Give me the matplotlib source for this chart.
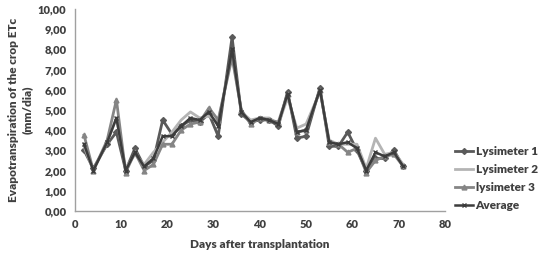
import matplotlib.pyplot as plt
from matplotlib.ticker import FuncFormatter

####################################################################################################

days = [2, 4, 7, 9, 11, 13, 15, 17, 19, 21, 23, 25, 27, 29, 31, 34, 36, 38, 40, 42, 44, 46, 48, 50,
        53, 55, 57, 59, 61, 63, 65, 67, 69, 71]

lys1 = [3.0, 2.1, 3.3, 3.9, 2.0, 3.1, 2.2, 2.5, 4.5, 3.8, 4.2, 4.5, 4.4, 4.8, 3.7, 8.6, 4.8, 4.4,
        4.5, 4.5, 4.2, 5.9, 3.6, 3.7, 6.1, 3.2, 3.2, 3.9, 3.0, 2.0, 2.6, 2.6, 3.0, 2.2]
lys2 = [3.2, 2.0, 3.4, 4.6, 2.1, 2.8, 2.3, 2.9, 3.4, 3.9, 4.5, 4.9, 4.6, 4.7, 4.4, 7.8, 4.9, 4.5,
        4.6, 4.6, 4.3, 5.6, 4.1, 4.3, 5.9, 3.5, 3.3, 3.3, 3.3, 2.1, 3.6, 2.8, 2.9, 2.3]
lys3 = [3.75, 2.0, 3.5, 5.5, 1.9, 2.9, 2.0, 2.3, 3.3, 3.3, 4.0, 4.3, 4.4, 5.1, 4.5, 7.6, 5.0, 4.3,
        4.6, 4.5, 4.4, 5.8, 3.9, 4.0, 6.0, 3.4, 3.3, 2.9, 3.1, 1.9, 2.5, 2.7, 2.8, 2.2]
average = [3.3, 2.0, 3.4, 4.6, 2.0, 2.9, 2.2, 2.6, 3.7, 3.7, 4.2, 4.6, 4.5, 4.9, 4.2, 8.0, 4.9, 4.4,
           4.6, 4.5, 4.3, 5.8, 3.9, 4.0, 6.0, 3.4, 3.3, 3.4, 3.1, 2.0, 2.9, 2.7, 2.9, 2.2]

labels = ['Lysimeter 1', 'Lysimeter 2', 'lysimeter 3', 'Average']

####################################################################################################

plt.rcParams['font.family'] = ['Lato', 'DejaVu Sans']
plt.rcParams['font.weight'] = 'heavy'

fig = plt.figure(figsize=(5.54, 2.62), dpi=100)
ax = fig.add_axes([0.135, 0.195, 0.668, 0.771])

ax.plot(days, lys1, color='#5a5a5a', lw=2.0, marker='D', ms=3, label=labels[0])
ax.plot(days, lys2, color='#b4b4b4', lw=2.0, label=labels[1])
ax.plot(days, lys3, color='#858585', lw=2.0, marker='^', ms=3.5, label=labels[2])
ax.plot(days, average, color='#3c3c3c', lw=1.8, marker='x', ms=3.5, label=labels[3])

ax.set_xlim(0, 80)
ax.set_ylim(0, 10)
ax.set_xticks(range(0, 81, 10))
ax.set_yticks(range(0, 11))
ax.yaxis.set_major_formatter(FuncFormatter(lambda v, p: ('%.2f' % v).replace('.', ',')))
ax.tick_params(length=0, labelsize=8, labelcolor='#404040', pad=6)
for t in ax.get_xticklabels() + ax.get_yticklabels():
    t.set_fontweight('heavy')

for side in ('top', 'right'):
    ax.spines[side].set_visible(False)
for side in ('left', 'bottom'):
    ax.spines[side].set_color('#a0a0a0')
    ax.spines[side].set_linewidth(1.0)

ax.set_xlabel('Days after transplantation', fontsize=8.5, color='#404040', fontweight='heavy',
              labelpad=6)
ax.set_ylabel('Evapotranspiration of the crop ETc\n(mm/dia)', fontsize=8.5, color='#404040',
              fontweight='heavy', labelpad=4)

leg = ax.legend(loc='center left', bbox_to_anchor=(1.0, 0.16), frameon=False, fontsize=8.5,
                handlelength=1.5, handletextpad=0.2, labelspacing=0.6, labelcolor='#404040')
for t in leg.get_texts():
    t.set_fontweight('heavy')

fig.savefig('out.png', dpi=100)
